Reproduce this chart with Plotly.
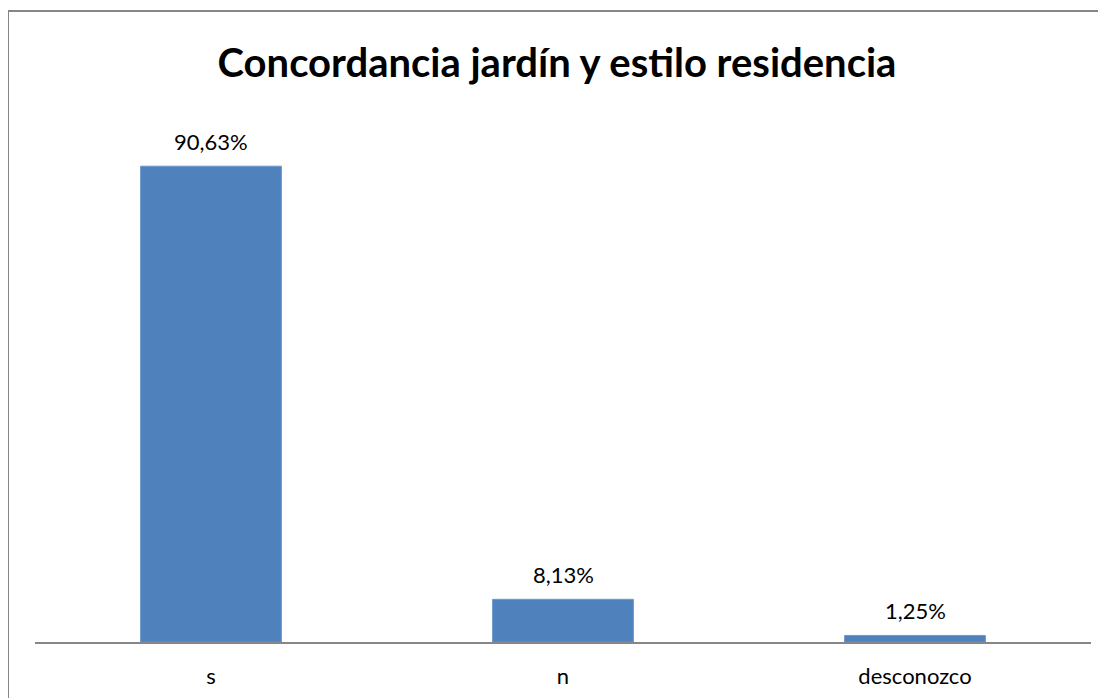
import plotly.graph_objects as go

categories = ["s", "n", "desconozco"]
values = [90.63, 8.13, 1.25]
labels = ["90,63%", "8,13%", "1,25%"]

FONT = "Lato, Carlito, sans-serif"

fig = go.Figure()
fig.add_trace(go.Bar(
    x=categories, y=values,
    marker=dict(color="#4F81BD", line=dict(color="#6C97CC", width=1)),
    cliponaxis=False,
))
for c, v, t in zip(categories, values, labels):
    fig.add_annotation(x=c, y=v, text=t, showarrow=False, yanchor="bottom",
                       yshift=9, font=dict(family=FONT, size=22, color="#000000"))

W, H = 1098, 690
fig.update_layout(
    width=W, height=H,
    margin=dict(l=27, r=15, t=109, b=56, autoexpand=False),
    paper_bgcolor="white", plot_bgcolor="white",
    bargap=0.6,
    showlegend=False,
    title=dict(text="<b>Concordancia jardín y estilo residencia</b>",
               x=0.5, xanchor="center", y=1 - 55 / H, yanchor="middle",
               font=dict(family=FONT, size=40, color="#000000")),
    font=dict(family=FONT, size=22, color="#000000"),
)
fig.update_xaxes(showline=True, linecolor="#868686", linewidth=2,
                 ticks="", ticklabelstandoff=14, showgrid=False, automargin=False,
                 tickfont=dict(family=FONT, size=22, color="#000000"))
fig.update_yaxes(range=[0, 100], visible=False, showgrid=False, automargin=False)

fig.add_shape(type="rect", xref="paper", yref="paper",
              x0=(0 - 27) / 1056, x1=1.05, y0=-0.3, y1=(634 - 3) / 525,
              line=dict(color="#868686", width=2), fillcolor="rgba(0,0,0,0)")

fig.write_html("out.html")
